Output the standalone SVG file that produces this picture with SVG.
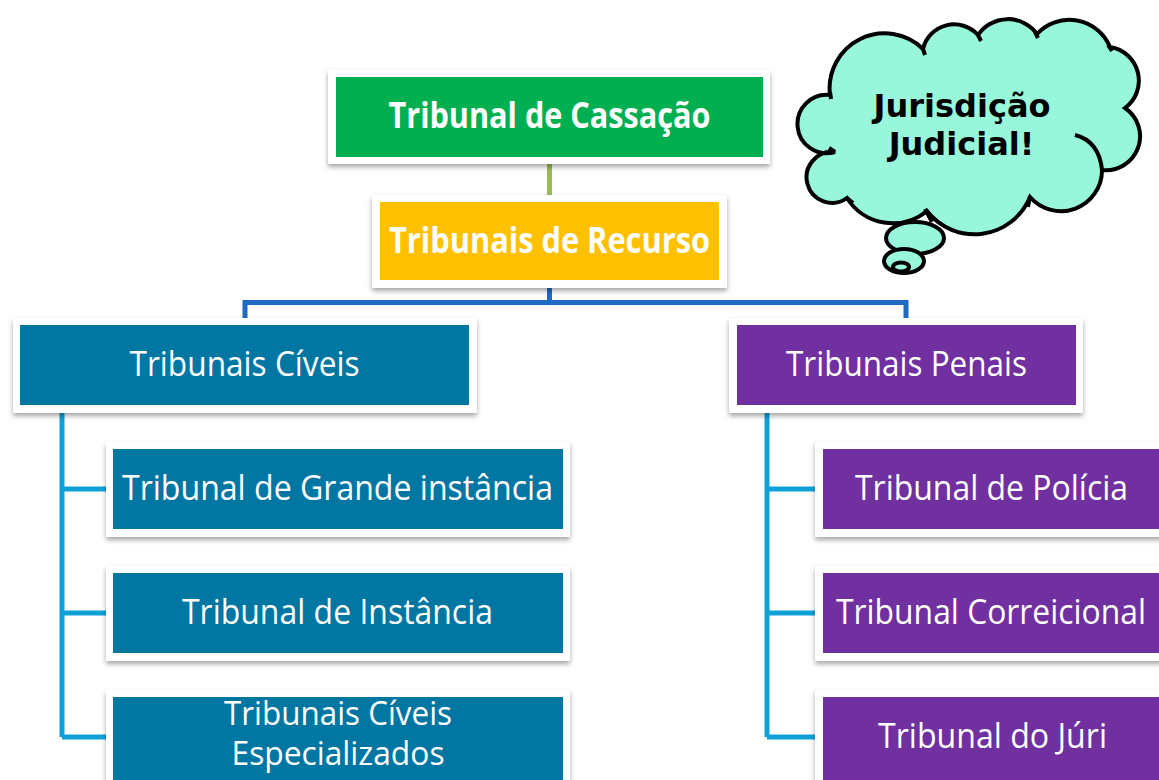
<svg xmlns="http://www.w3.org/2000/svg" width="1159" height="780" viewBox="0 0 1159 780">
  <defs>
    <filter id="sh" x="-10%" y="-20%" width="120%" height="150%">
      <feDropShadow dx="0" dy="3" stdDeviation="2.5" flood-color="#000" flood-opacity="0.35"/>
    </filter>
    <style>
      .frame { fill: #ffffff; filter: url(#sh); }
      .t { font-family: "Open Sans", "Liberation Sans", sans-serif; font-size: 34px; fill: #ffffff; text-anchor: middle; }
      .t2 { font-family: "Open Sans", "Liberation Sans", sans-serif; font-size: 32px; fill: #ffffff; text-anchor: middle; }
      .tb { font-family: "Open Sans", "Liberation Sans", sans-serif; font-size: 35px; font-weight: bold; fill: #ffffff; text-anchor: middle; }
      .cloudt { font-family: "DejaVu Sans", Verdana, sans-serif; font-size: 32px; font-weight: bold; fill: #000000; text-anchor: middle; }
      .conn { fill: none; stroke-width: 5; stroke-linejoin: miter; }
      .cl { stroke: #000; stroke-width: 4; }
    </style>
  </defs>
  <rect width="1159" height="780" fill="#ffffff"/>

  <g id="connectors">
    <line class="conn" x1="549.5" y1="164" x2="549.5" y2="195" stroke="#9BBB59"/>
    <path class="conn" stroke="#1F6BC4" d="M549.5,288 V302.5 M245,318 V302.5 H906 V318"/>
    <path class="conn" stroke="#10A0D8" d="M62,413 V737 M62,489 H106 M62,613 H106 M62,737 H106"/>
    <path class="conn" stroke="#10A0D8" d="M767,413 V737 M767,489 H815 M767,613 H815 M767,737 H815"/>
  </g>

  <g id="cassacao">
    <rect class="frame" x="328" y="70" width="442" height="94"/>
    <rect x="336" y="77" width="427" height="80" fill="#00B050"/>
    <text class="tb" x="549.5" y="128" textLength="322" lengthAdjust="spacingAndGlyphs">Tribunal de Cassação</text>
  </g>

  <g id="recurso">
    <rect class="frame" x="372" y="195" width="355" height="93"/>
    <rect x="380" y="202" width="339" height="78" fill="#FFC000"/>
    <text class="tb" x="549.5" y="253" textLength="321" lengthAdjust="spacingAndGlyphs">Tribunais de Recurso</text>
  </g>

  <g id="civeis">
    <rect class="frame" x="13" y="318" width="464" height="95"/>
    <rect x="20" y="325" width="449" height="80" fill="#0076A3"/>
    <text class="t" x="244.5" y="376" textLength="230" lengthAdjust="spacingAndGlyphs">Tribunais Cíveis</text>
  </g>

  <g id="penais">
    <rect class="frame" x="729" y="318" width="354" height="95"/>
    <rect x="737" y="325" width="339" height="80" fill="#7030A0"/>
    <text class="t" x="906.5" y="376" textLength="241" lengthAdjust="spacingAndGlyphs">Tribunais Penais</text>
  </g>

  <g id="grande-instancia">
    <rect class="frame" x="106" y="442" width="464" height="95"/>
    <rect x="113" y="449" width="450" height="80" fill="#0076A3"/>
    <text class="t" x="337.5" y="500" textLength="431" lengthAdjust="spacingAndGlyphs">Tribunal de Grande instância</text>
  </g>

  <g id="instancia">
    <rect class="frame" x="106" y="566" width="464" height="95"/>
    <rect x="113" y="573" width="450" height="80" fill="#0076A3"/>
    <text class="t" x="337.5" y="624" textLength="311" lengthAdjust="spacingAndGlyphs">Tribunal de Instância</text>
  </g>

  <g id="civeis-especializados">
    <rect class="frame" x="106" y="690" width="464" height="95"/>
    <rect x="113" y="697" width="450" height="83" fill="#0076A3"/>
    <text class="t2" x="338" y="725" textLength="228" lengthAdjust="spacingAndGlyphs">Tribunais Cíveis</text>
    <text class="t2" x="338" y="765" textLength="213" lengthAdjust="spacingAndGlyphs">Especializados</text>
  </g>

  <g id="policia">
    <rect class="frame" x="815" y="442" width="353" height="95"/>
    <rect x="823" y="449" width="338" height="80" fill="#7030A0"/>
    <text class="t" x="991.5" y="500" textLength="273" lengthAdjust="spacingAndGlyphs">Tribunal de Polícia</text>
  </g>

  <g id="correicional">
    <rect class="frame" x="815" y="566" width="353" height="95"/>
    <rect x="823" y="573" width="338" height="80" fill="#7030A0"/>
    <text class="t" x="991" y="624" textLength="310" lengthAdjust="spacingAndGlyphs">Tribunal Correicional</text>
  </g>

  <g id="juri">
    <rect class="frame" x="815" y="690" width="353" height="95"/>
    <rect x="823" y="697" width="338" height="83" fill="#7030A0"/>
    <text class="t" x="992.5" y="748" textLength="229" lengthAdjust="spacingAndGlyphs">Tribunal do Júri</text>
  </g>

  <g id="cloud">
    <path class="cl" fill="#98F6DA" d="M830,95 A55,55 0 0 1 923,49 A32,32 0 0 1 978,35 A36,36 0 0 1 1037,34 A44,44 0 0 1 1110,47 A34,34 0 0 1 1125,108 A34,34 0 0 1 1102,170 A41,41 0 0 1 1030,197 A60,60 0 0 1 927,211 A54,54 0 0 1 847,198 A25.5,25.5 0 1 1 835,152 A29.2,29.2 0 1 1 830,95 Z"/>
    <path class="cl" fill="none" d="M1075,135 Q1099,141 1102,170 M923,49 L925,55 M978,35 L981,41 M1035,32 L1038,38 M1108,45 L1112,51 M1030,196 L1028,207 M925,209 L932,222 M847,198 L853,203 M830,92 L831,99 M835,152 L829,148"/>
    <ellipse class="cl" cx="915" cy="238" rx="29" ry="16" fill="#98F6DA"/>
    <ellipse class="cl" cx="904" cy="261" rx="20" ry="12" fill="#98F6DA"/>
    <ellipse class="cl" cx="901" cy="267" rx="8" ry="4.5" fill="#98F6DA"/>
    <text class="cloudt" x="962" y="117">Jurisdição</text>
    <text class="cloudt" x="961.5" y="155">Judicial!</text>
  </g>
</svg>
